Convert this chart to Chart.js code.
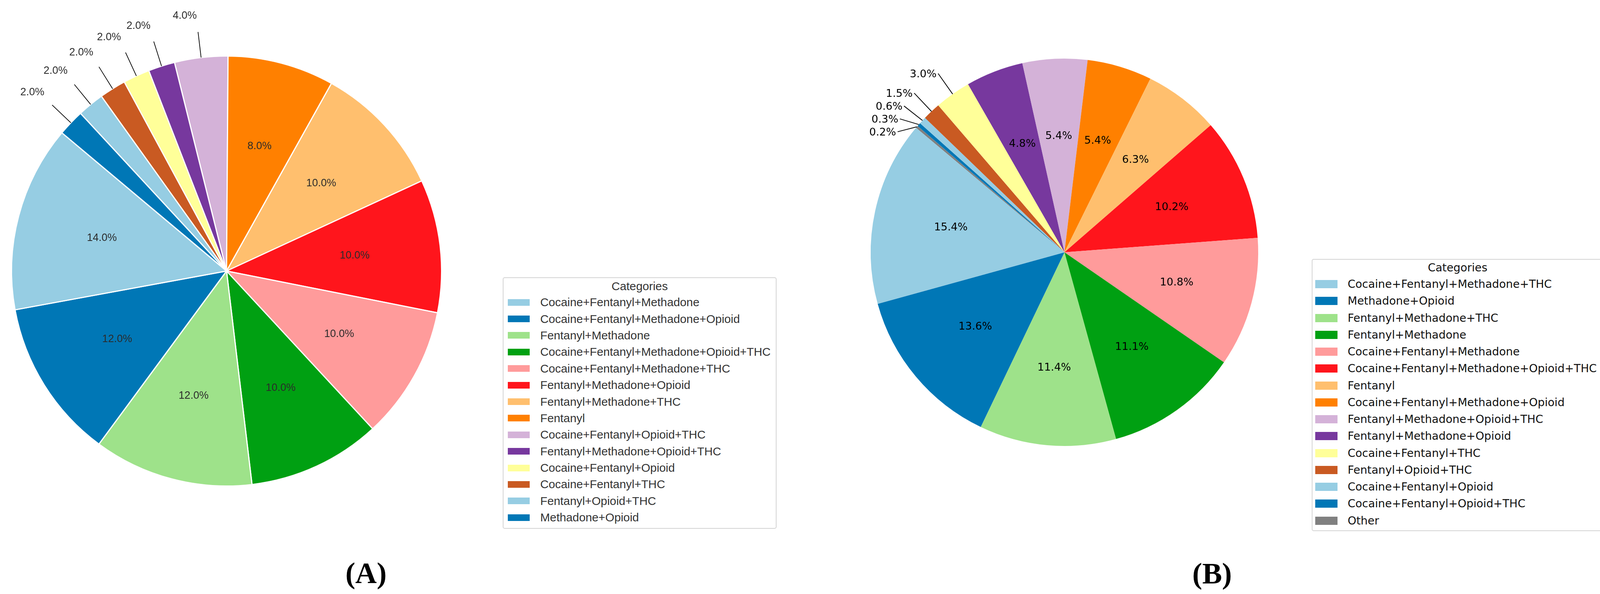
<!DOCTYPE html>
<html>
<head>
<meta charset="utf-8">
<script src="https://cdn.jsdelivr.net/npm/chart.js@4.4.1/dist/chart.umd.min.js"></script>
<style>
  html, body { margin: 0; padding: 0; background: #fff; }
  #page { position: relative; width: 4134px; height: 1521px; overflow: hidden; background: #fff; }
  canvas { position: absolute; }
  .legend { position: absolute; box-sizing: border-box; border: 2px solid #d4d4d4; border-radius: 5px; background: #fff; }
  .legend .title { text-align: center; }
  .legend .row { display: flex; align-items: center; white-space: nowrap; }
  .legend .sw { display: inline-block; flex: none; }
  .caption { position: absolute; font-family: 'Liberation Serif', 'Times New Roman', serif; font-weight: bold; font-size: 76px; color: #000; transform: translate(-50%, -50%); line-height: 1; }
</style>
</head>
<body>
<div id="page">
  <canvas id="pieA" width="1280" height="1400" style="left:0px;top:0px;width:1280px;height:1400px"></canvas>
  <canvas id="pieB" width="1150" height="1300" style="left:2150px;top:0px;width:1150px;height:1300px"></canvas>
  <div id="legendA" class="legend" style="left:1287px;top:710px;width:701px;height:644px"></div>
  <div id="legendB" class="legend" style="left:3358px;top:663px;width:747px;height:697px"></div>
  <div class="caption" style="left:937px;top:1467px">(A)</div>
  <div class="caption" style="left:3103px;top:1468px">(B)</div>
</div>
<script>
// panel A
const categoriesA = [
  'Cocaine+Fentanyl+Methadone',
  'Cocaine+Fentanyl+Methadone+Opioid',
  'Fentanyl+Methadone',
  'Cocaine+Fentanyl+Methadone+Opioid+THC',
  'Cocaine+Fentanyl+Methadone+THC',
  'Fentanyl+Methadone+Opioid',
  'Fentanyl+Methadone+THC',
  'Fentanyl',
  'Cocaine+Fentanyl+Opioid+THC',
  'Fentanyl+Methadone+Opioid+THC',
  'Cocaine+Fentanyl+Opioid',
  'Cocaine+Fentanyl+THC',
  'Fentanyl+Opioid+THC',
  'Methadone+Opioid'
];
const valuesA = [14, 12, 12, 10, 10, 10, 10, 8, 4, 2, 2, 2, 2, 2];
const colorsA = ['#96cde3', '#0077b6', '#9ee28a', '#00a012', '#ff9b9b', '#ff151c', '#ffbf6e',
                 '#ff8000', '#d4b2d8', '#77389e', '#ffff99', '#c95a22', '#96cde3', '#0077b6'];

// panel B
const categoriesB = [
  'Cocaine+Fentanyl+Methadone+THC',
  'Methadone+Opioid',
  'Fentanyl+Methadone+THC',
  'Fentanyl+Methadone',
  'Cocaine+Fentanyl+Methadone',
  'Cocaine+Fentanyl+Methadone+Opioid+THC',
  'Fentanyl',
  'Cocaine+Fentanyl+Methadone+Opioid',
  'Fentanyl+Methadone+Opioid+THC',
  'Fentanyl+Methadone+Opioid',
  'Cocaine+Fentanyl+THC',
  'Fentanyl+Opioid+THC',
  'Cocaine+Fentanyl+Opioid',
  'Cocaine+Fentanyl+Opioid+THC',
  'Other'
];
const valuesB = [15.4, 13.6, 11.4, 11.1, 10.8, 10.2, 6.3, 5.4, 5.4, 4.8, 3.0, 1.5, 0.6, 0.3, 0.2];
const colorsB = ['#96cde3', '#0077b6', '#9ee28a', '#00a012', '#ff9b9b', '#ff151c', '#ffbf6e',
                 '#ff8000', '#d4b2d8', '#77389e', '#ffff99', '#c95a22', '#96cde3', '#0077b6', '#808080'];

// percentage labels, small slices get a leader line
const pctLabels = {
  id: 'pctLabels',
  afterDatasetsDraw(chart, args, o) {
    const ctx = chart.ctx;
    const meta = chart.getDatasetMeta(0);
    const vals = chart.data.datasets[0].data;
    const total = vals.reduce((a, b) => a + b, 0);
    const outside = [];
    ctx.save();
    ctx.font = o.font;
    ctx.fillStyle = o.color;
    meta.data.forEach((arc, i) => {
      const p = arc.getProps(['x', 'y', 'startAngle', 'endAngle', 'outerRadius']);
      const mid = (p.startAngle + p.endAngle) / 2;
      const r = p.outerRadius;
      const text = (vals[i] / total * 100).toFixed(1) + '%';
      if (vals[i] >= o.minInside) {
        ctx.textAlign = 'center';
        ctx.textBaseline = 'middle';
        ctx.fillText(text, p.x + Math.cos(mid) * r * 0.6, p.y + Math.sin(mid) * r * 0.6);
      } else {
        outside.push({
          text,
          sx: p.x + Math.cos(mid) * r, sy: p.y + Math.sin(mid) * r,
          ex: p.x + Math.cos(mid) * r * o.lineR, ey: p.y + Math.sin(mid) * r * o.lineR,
          tx: p.x + Math.cos(mid) * r * o.textR + o.dx, ty: p.y + Math.sin(mid) * r * o.textR + o.dy
        });
      }
    });
    if (o.gap > 0) {
      outside.sort((a, b) => a.ey - b.ey);
      for (let k = 1; k < outside.length; k++) {
        const need = outside[k - 1].ey + o.gap;
        if (outside[k].ey < need) {
          const shift = need - outside[k].ey;
          outside[k].ey += shift;
          outside[k].ty += shift;
        }
      }
    }
    ctx.strokeStyle = '#000';
    ctx.lineWidth = o.lineWidth;
    ctx.textAlign = 'right';
    ctx.textBaseline = o.baseline;
    outside.forEach(l => {
      ctx.beginPath();
      ctx.moveTo(l.sx, l.sy);
      ctx.lineTo(l.ex, l.ey);
      ctx.stroke();
      ctx.fillText(l.text, l.tx, l.ty);
    });
    ctx.restore();
  }
};

// matplotlib draws counter-clockwise from 140 deg; Chart.js goes clockwise, so feed reversed
function makePie(id, labels, values, colors, border, padding, labelOpts) {
  return new Chart(document.getElementById(id), {
    type: 'pie',
    data: {
      labels: labels.slice().reverse(),
      datasets: [{
        data: values.slice().reverse(),
        backgroundColor: colors.slice().reverse(),
        borderColor: '#ffffff',
        borderWidth: border,
        hoverOffset: 0
      }]
    },
    options: {
      responsive: false,
      animation: false,
      rotation: -50,
      layout: { padding },
      plugins: {
        legend: { display: false },
        tooltip: { enabled: false },
        pctLabels: labelOpts
      }
    },
    plugins: [pctLabels]
  });
}

const pieA = makePie('pieA', categoriesA, valuesA, colorsA, 3,
  { left: 28, top: 142, right: 148, bottom: 154 },
  { font: '27px "Liberation Sans", Arial, sans-serif', color: '#2b2b2b', minInside: 5,
    lineR: 1.12, textR: 1.17, dx: 0, dy: 0, gap: 0, baseline: 'bottom', lineWidth: 1.8 });

const pieB = makePie('pieB', categoriesB, valuesB, colorsB, 0,
  { left: 79, top: 150, right: 79, bottom: 158 },
  { font: '27px "DejaVu Sans", sans-serif', color: '#000', minInside: 4,
    lineR: 1.13, textR: 1.13, dx: -4, dy: 3, gap: 33, baseline: 'middle', lineWidth: 2 });

function buildLegend(el, labels, colors, s) {
  el.style.fontFamily = s.font;
  el.style.fontSize = s.size + 'px';
  el.style.color = s.color;
  const t = document.createElement('div');
  t.className = 'title';
  t.textContent = 'Categories';
  t.style.height = s.titleH + 'px';
  t.style.lineHeight = s.titleH + 'px';
  el.appendChild(t);
  labels.forEach((lab, i) => {
    const row = document.createElement('div');
    row.className = 'row';
    row.style.height = s.rowH + 'px';
    const sw = document.createElement('span');
    sw.className = 'sw';
    sw.style.width = s.swW + 'px';
    sw.style.height = s.swH + 'px';
    sw.style.marginLeft = s.swLeft + 'px';
    sw.style.marginRight = s.swGap + 'px';
    sw.style.background = colors[i];
    const tx = document.createElement('span');
    tx.textContent = lab;
    row.appendChild(sw);
    row.appendChild(tx);
    el.appendChild(row);
  });
}

buildLegend(document.getElementById('legendA'), categoriesA, colorsA,
  { font: '"Liberation Sans", Arial, sans-serif', size: 29.8, color: '#333', titleH: 41,
    rowH: 42.4, swW: 56, swH: 17, swLeft: 11, swGap: 27 });
buildLegend(document.getElementById('legendB'), categoriesB, colorsB,
  { font: '"DejaVu Sans", sans-serif', size: 28.3, color: '#111', titleH: 41,
    rowH: 43.25, swW: 57, swH: 21, swLeft: 7, swGap: 26 });
</script>
</body>
</html>
